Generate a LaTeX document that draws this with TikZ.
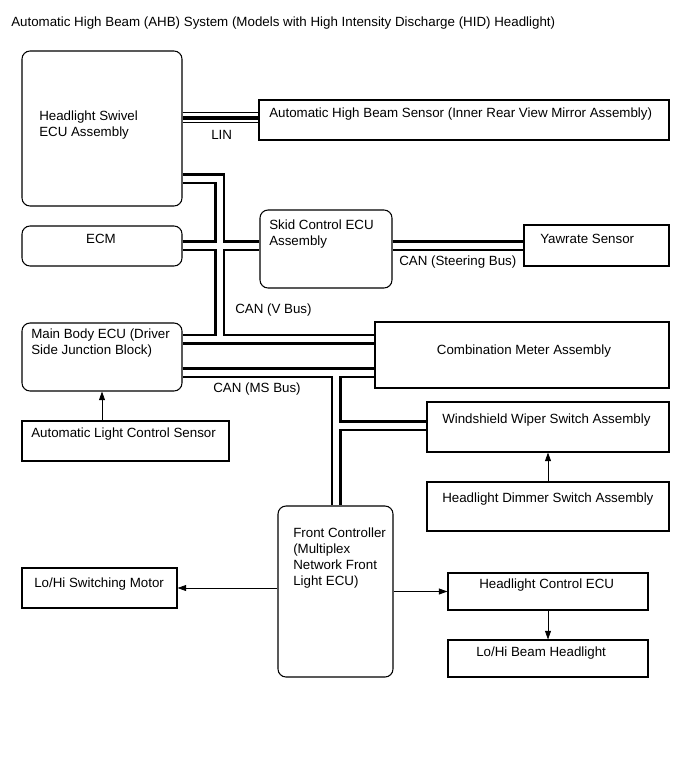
\documentclass[tikz,border=0pt]{standalone}
\usepackage{fontspec}
\setmainfont{Liberation Sans}
\usetikzlibrary{fit,arrows.meta}

\begin{document}
\begin{tikzpicture}[x=0.75pt,y=0.75pt,yscale=-1,xscale=1,
  box/.style={draw, line width=0.8pt, inner sep=0pt},
  rbox/.style={box, rounded corners=6pt},
  txt/.style={font=\fontsize{10}{12}\selectfont, align=left, inner sep=0pt, anchor=base west},
  bus/.style={draw=white, line width=4.5pt, preaction={draw=black, line width=8.25pt}},
  lin/.style={draw=white, line width=6.6pt, preaction={draw=black, line width=8.25pt}, postaction={draw=black, line width=3pt}},
  sig/.style={line width=0.6pt, -{Triangle[length=6.5pt,width=4.5pt]}}]
\useasboundingbox (0,0) rectangle (689,757);

% Text Node
\node[txt] (title) at (11,26) {Automatic High Beam (AHB) System (Models with High Intensity Discharge (HID) Headlight)};

%Shape: Rounded Rect
\node[rbox, fit={(22,51) (182,206)}] (swivel) {};
\node[rbox, fit={(22,226) (182,266)}] (ecm) {};
\node[rbox, fit={(260,210) (392,288)}] (skid) {};
\node[rbox, fit={(22,323) (182,391)}] (mainbody) {};
\node[rbox, fit={(278,506) (393,677)}] (front) {};
%Shape: Rectangle
\node[box, fit={(259,100) (669,140)}] (ahbs) {};
\node[box, fit={(524,225) (669,266)}] (yaw) {};
\node[box, fit={(375,322) (669,388)}] (combo) {};
\node[box, fit={(22,421) (229,461)}] (alcs) {};
\node[box, fit={(427,402) (669,452)}] (wiper) {};
\node[box, fit={(427,482) (669,531)}] (dimmer) {};
\node[box, fit={(22,568) (177,608)}] (motor) {};
\node[box, fit={(448,573) (648,610)}] (hcecu) {};
\node[box, fit={(448,640) (648,677)}] (beam) {};

% bus junctions
\coordinate (linrow) at (220,117.5);
\coordinate (vtop) at (219.5,178.5);
\coordinate (xing) at (219.5,245.5);
\coordinate (vtee) at (219.5,339);
\coordinate (mstee) at (336,372.5);
\coordinate (wtee) at (336,425.5);

%Bus Lines
\draw[lin] (swivel.east |- linrow) -- (ahbs.west |- linrow);
\draw[bus] (swivel.east |- vtop) -- (vtop) -- (vtee)
  (ecm.east |- xing) -- (skid.west |- xing)
  (mainbody.east |- vtee) -- (combo.west |- vtee);
\draw[bus] (skid.east |- xing) -- (yaw.west |- xing);
\draw[bus] (mainbody.east |- mstee) -- (combo.west |- mstee)
  (mstee) -- (mstee |- front.north)
  (wtee) -- (wiper.west |- wtee);

%Arrows
\draw[sig] (alcs.north -| mainbody.south) -- (mainbody.south);
\draw[sig] (dimmer.north) -- (wiper.south);
\draw[sig] (front.west |- motor.east) -- (motor.east);
\draw[sig] (front.east |- hcecu.west) -- (hcecu.west);
\draw[sig] (hcecu.south) -- (beam.north);

% Text Node (multi-line nodes sit on their last line)
\node[txt] (swivel-t) at (39,136) {Headlight Swivel\\ECU Assembly};
\node[txt] (ahbs-t) at (269,117) {Automatic High Beam Sensor (Inner Rear View Mirror Assembly)};
\node[txt, anchor=base] (ecm-t) at (101,243) {ECM};
\node[txt] (skid-t) at (269,245) {Skid Control ECU\\Assembly};
\node[txt] (yaw-t) at (540,243) {Yawrate Sensor};
\node[txt] (mainbody-t) at (31,354) {Main Body ECU (Driver\\Side Junction Block)};
\node[txt, anchor=base] (combo-t) at (524,354) {Combination Meter Assembly};
\node[txt] (alcs-t) at (31,437) {Automatic Light Control Sensor};
\node[txt] (wiper-t) at (442,423) {Windshield Wiper Switch Assembly};
\node[txt] (dimmer-t) at (442,502) {Headlight Dimmer Switch Assembly};
\node[txt] (front-t) at (293,585) {Front Controller\\(Multiplex\\Network Front\\Light ECU)};
\node[txt] (motor-t) at (34,587) {Lo/Hi Switching Motor};
\node[txt] (hcecu-t) at (479,588) {Headlight Control ECU};
\node[txt] (beam-t) at (476,656) {Lo/Hi Beam Headlight};
% bus labels
\node[txt] (lin-l) at (211,139) {LIN};
\node[txt] (vbus-l) at (235,313) {CAN (V Bus)};
\node[txt] (steer-l) at (399,265) {CAN (Steering Bus)};
\node[txt] (msbus-l) at (213,392) {CAN (MS Bus)};

\end{tikzpicture}
\end{document}
